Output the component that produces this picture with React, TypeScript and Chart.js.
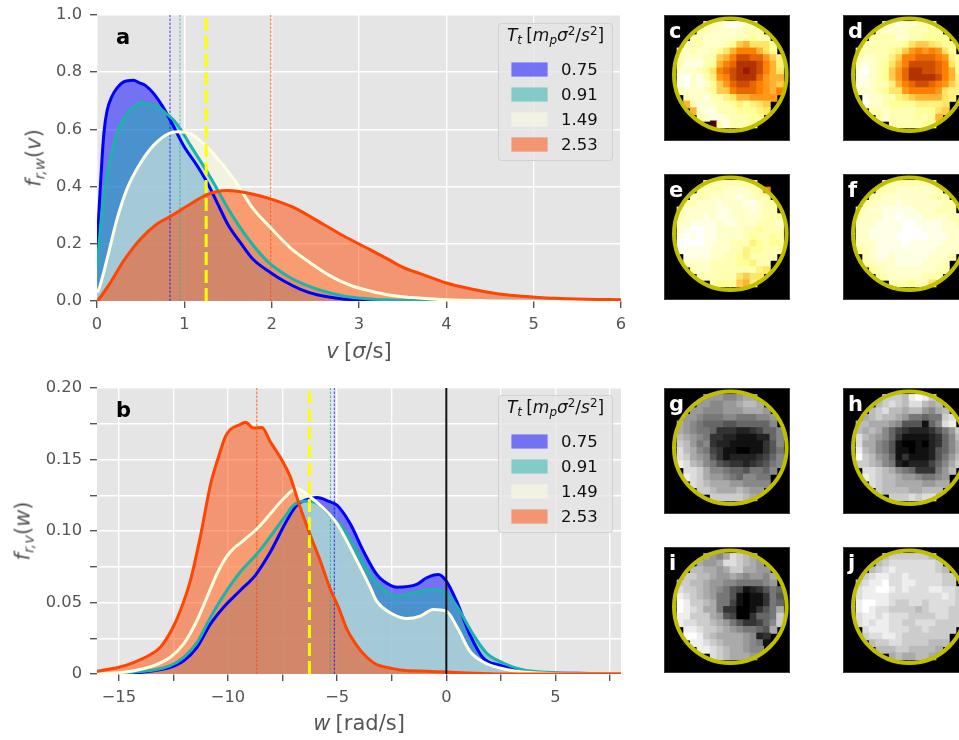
import React, { useEffect, useRef } from "react";
import { Chart, registerables } from "chart.js";

Chart.register(...registerables);

const FONT = "'DejaVu Sans', sans-serif";
const INK = "#555555";
const PANEL = "#E5E5E5";

const seriesLabels = ["0.75", "0.91", "1.49", "2.53"];
const seriesLines = ["#0000FF", "#20B2AA", "#FFFFE0", "#FF4500"];
const seriesFills = ["rgba(0,0,255,0.5)", "rgba(32,178,170,0.5)", "rgba(255,255,224,0.5)", "rgba(255,69,0,0.5)"];
const meanColors = ["rgba(0,0,255,0.75)", "rgba(32,178,170,0.85)", "#FFFF00", "rgba(255,69,0,0.8)"];

// Panel a: speed distribution
const speedBlueX = [0, 0.02, 0.04, 0.06, 0.08, 0.115, 0.17, 0.23, 0.305, 0.42, 0.477, 0.553, 0.65, 0.744, 0.84, 0.99, 1.145, 1.26, 1.374, 1.507, 1.64, 1.79, 1.985, 2.14, 2.33, 2.52, 2.79, 2.98, 3.17, 3.5, 4, 6];
const speedBlueY = [0.164, 0.3, 0.41, 0.51, 0.59, 0.665, 0.715, 0.745, 0.766, 0.772, 0.764, 0.754, 0.725, 0.684, 0.632, 0.544, 0.474, 0.415, 0.345, 0.263, 0.205, 0.145, 0.1, 0.07, 0.041, 0.022, 0.008, 0.0035, 0.0012, 0.0003, 0, 0];
const speedTealX = [0, 0.057, 0.115, 0.19, 0.267, 0.344, 0.42, 0.496, 0.573, 0.687, 0.782, 0.878, 0.954, 1.07, 1.24, 1.374, 1.527, 1.72, 1.947, 2.21, 2.52, 2.82, 3.09, 3.36, 3.7, 4.2, 6];
const speedTealY = [0.117, 0.31, 0.439, 0.544, 0.614, 0.655, 0.678, 0.694, 0.69, 0.681, 0.658, 0.632, 0.602, 0.544, 0.462, 0.392, 0.31, 0.222, 0.14, 0.082, 0.041, 0.0175, 0.008, 0.0035, 0.001, 0, 0];
const speedIvoryX = [0, 0.02, 0.115, 0.23, 0.344, 0.477, 0.65, 0.84, 0.935, 1.07, 1.164, 1.3, 1.565, 1.79, 1.985, 2.21, 2.44, 2.67, 2.9, 3.13, 3.36, 3.6, 4, 4.5, 5, 6];
const speedIvoryY = [0.03, 0.04, 0.146, 0.287, 0.392, 0.472, 0.545, 0.588, 0.592, 0.585, 0.565, 0.526, 0.427, 0.322, 0.257, 0.187, 0.134, 0.088, 0.055, 0.035, 0.02, 0.012, 0.004, 0.001, 0, 0];
const speedRedX = [0, 0.02, 0.153, 0.305, 0.496, 0.687, 0.84, 1.07, 1.26, 1.49, 1.64, 1.79, 1.985, 2.25, 2.52, 2.82, 3.126, 3.32, 3.51, 3.7, 3.89, 4, 4.27, 4.46, 4.73, 4.99, 5.22, 5.6, 6];
const speedRedY = [0, 0.006, 0.064, 0.14, 0.216, 0.269, 0.296, 0.339, 0.372, 0.386, 0.382, 0.373, 0.357, 0.327, 0.281, 0.228, 0.1795, 0.148, 0.1166, 0.0956, 0.0746, 0.063, 0.043, 0.0315, 0.0198, 0.014, 0.0093, 0.0058, 0.0047];
const speedMeans = [0.836, 0.95, 1.25, 1.99];
const speedXTicks = [0, 1, 2, 3, 4, 5, 6];
const speedYTicks = [0, 0.2, 0.4, 0.6, 0.8, 1.0];

// Panel b: angular velocity distribution
const spinBlueX = [-16, -14.3, -13.4, -12.64, -12.03, -11.42, -10.8, -10.2, -9.44, -8.75, -8.06, -7.3, -6.85, -6.39, -5.93, -5.32, -5, -4.4, -3.8, -3.19, -2.88, -2.27, -1.36, -0.9, -0.37, 0, 0.47, 1.08, 1.69, 2.45, 3.37, 4.6, 5.96, 8];
const spinBlueY = [0, 0.0007, 0.0023, 0.0047, 0.0093, 0.0187, 0.035, 0.0467, 0.0584, 0.069, 0.0853, 0.1075, 0.118, 0.122, 0.1234, 0.1203, 0.118, 0.105, 0.086, 0.0696, 0.065, 0.0607, 0.0626, 0.0673, 0.0696, 0.065, 0.0509, 0.0276, 0.0112, 0.0061, 0.0023, 0.0009, 0.0005, 0];
const spinTealX = [-16, -15, -14.3, -13.4, -12.64, -12.03, -11.42, -10.8, -10.2, -9.44, -8.67, -7.91, -7.3, -7, -6.39, -5.93, -5.32, -4.7, -4.1, -3.49, -3.03, -2.27, -1.5, -0.6, 0, 0.62, 1.23, 1.84, 2.6, 3.5, 4.6, 5.96, 8];
const spinTealY = [0, 0.0005, 0.0014, 0.0028, 0.0058, 0.0117, 0.022, 0.0397, 0.055, 0.0713, 0.0841, 0.0993, 0.112, 0.118, 0.121, 0.1194, 0.1107, 0.1014, 0.086, 0.0696, 0.0614, 0.0544, 0.0568, 0.0591, 0.0568, 0.0439, 0.0276, 0.0147, 0.0077, 0.003, 0.0012, 0.0002, 0];
const spinIvoryX = [-16, -15.4, -14.3, -13.4, -12.64, -12.03, -11.42, -10.96, -10.43, -9.9, -9.28, -8.67, -8.06, -7.45, -6.85, -6.23, -5.62, -5, -4.1, -3.49, -3.19, -2.42, -1.81, -1.2, -0.6, 0, 0.47, 1.08, 1.69, 2.45, 3.2, 3.98, 5, 6, 8];
const spinIvoryY = [0, 0.0005, 0.0023, 0.0058, 0.0117, 0.021, 0.0374, 0.0537, 0.0724, 0.0853, 0.0935, 0.1016, 0.112, 0.1227, 0.1297, 0.1238, 0.1157, 0.105, 0.0794, 0.0607, 0.0509, 0.0416, 0.0388, 0.0404, 0.0451, 0.0439, 0.0334, 0.0159, 0.0084, 0.0042, 0.0019, 0.0009, 0.0002, 0, 0];
const spinRedX = [-16, -15, -14.3, -13.63, -13.1, -12.56, -12.18, -11.72, -11.27, -10.8, -10.43, -10.12, -9.89, -9.5, -9.2, -8.83, -8.45, -8.06, -7.53, -7.15, -6.77, -6.23, -5.78, -5.32, -4.94, -4.56, -4.1, -3.64, -3.19, -2.58, -2.12, -0.9, 0, 0.93, 2, 3, 8];
const spinRedY = [0.0019, 0.0047, 0.0082, 0.0129, 0.0187, 0.0315, 0.0444, 0.0654, 0.0958, 0.1325, 0.152, 0.166, 0.171, 0.174, 0.176, 0.172, 0.1724, 0.1624, 0.1495, 0.138, 0.12, 0.097, 0.0794, 0.0596, 0.0467, 0.0315, 0.0199, 0.0117, 0.0065, 0.0042, 0.0028, 0.0019, 0.0014, 0.0007, 0.0002, 0, 0];
const spinMeans = [-5.13, -5.31, -6.27, -8.68];
const spinZero = 0;
const spinXTicks = [-15, -12.5, -10, -7.5, -5, -2.5, 0, 2.5, 5, 7.5];
const spinYTicks = [0, 0.025, 0.05, 0.075, 0.1, 0.125, 0.15, 0.175, 0.2];

// Heat maps: each row is a run of levels (hex digit, 0 = lowest) starting at the column given in heatRowStarts
const heatRowStarts = [8, 6, 5, 4, 3, 1, 1, 1, 1, 1, 1, 1, 3, 3, 4, 5, 7, 9];
const heatMaskStart = [99, 6, 5, 4, 3, 2, 2, 2, 2, 2, 2, 2, 3, 3, 4, 5, 7, 99];
const heatMaskEnd = [0, 13, 15, 15, 16, 16, 17, 17, 17, 17, 17, 17, 16, 15, 15, 14, 13, 0];
const heatC = ["22222", "33210122", "3322222333", "332222233433", "33322234786664", "3323223468aaa864", "432223378accbb9754", "43111348abdddca854", "4222346abcdedca865", "31021359acdddb9887", "310212479bccba9876", "422223477abbba98a", "32213356889999", "8312233454567", "821133344456", "3211233344", "f313334", "3333"];
const heatD = ["33333", "22122333", "3222233343", "333322334444", "33333346776544", "7433334579a9a964", "33223357aabbba9544", "32123468accccba644", "31023479bddccba844", "31123479bddddca854", "31123358abccba9754", "322234669aaaa9655", "12233567888865", "0223444455556", "332333344467", "3233334348", "3333344", "4444"];
const heatE = ["33333", "33333333", "3333222233a", "233222212233", "33222122211233", "3322222112221233", "332221211222223343", "322111121122233323", "221001122223343333", "210101122223433433", "200001122333543444", "201111222335443333", "11112233453333", "2222333344533", "322333333356", "3333336766", "3444785", "4466"];
const heatF = ["44444", "33333333", "3332222223", "332222222333", "33222122222233", "7322211111222333", "332221101112222333", "322211110011112233", "322111110001112223", "322111100000111223", "322211110111112223", "433211111111122223", "32112111112223", "3322211112223", "432222222233", "3322222333", "3334336", "4444"];
const heatG = ["66666", "66677655", "6677665445", "667776665556", "66788877888776", "55678999aa999997", "4567889cccddcb9977", "345678ccddeeedd977", "234687cddeeeeeca78", "124578bceeffeeca87", "023567aceddddcb976", "0124578abccdcba87", "223577899a8897", "1235667897788", "234555667777", "3345554566", "3333345", "3333"];
const heatH = ["44444", "33341013", "4323422454", "432445446754", "54344568898832", "44455567aaae9721", "3454579bcdddca8632", "1245679ceeeedc9743", "125578aeffefdc9754", "014578aeefeeda9754", "0034679eceeeda8643", "2334578dedddb9753", "22345789ccc864", "1234456678876", "234455556655", "3444455444", "3332322", "3333"];
const heatI = ["44555", "56752345", "5665223456", "445565335566", "33445665676675", "3334456677888876", "223345678abedca896", "012345688aefeec8a9", "001334588befeec89f", "00123558ccffeca856", "01133356abffc99833", "1122334568accb973", "112334567889a5", "00134555567dc", "11234555678e", "1123455677", "2345556", "5555"];
const heatJ = ["55555", "43333334", "4322222223", "432122222234", "32112212222233", "4321102211222233", "321100121222112233", "321111222222221233", "210011233223222233", "210122333343222333", "221121222333322333", "321211223322233333", "21112223323333", "3221123333333", "433223333444", "4443344445", "5455445", "5555"];

const warmPalette = ["#FFFFFF", "#FFFFE6", "#FFFFCC", "#FFFFB3", "#FFFF99", "#FFF280", "#FFE666", "#FFCC4D", "#FFB333", "#FF9919", "#FF8000", "#E66600", "#CC4D00", "#B33300", "#991A00", "#4C0000"];
const grayPalette = ["#FFFFFF", "#EEEEEE", "#DDDDDD", "#CCCCCC", "#BBBBBB", "#AAAAAA", "#999999", "#888888", "#777777", "#666666", "#555555", "#444444", "#333333", "#222222", "#111111", "#000000"];

const gridCells = 19;
const ringCenterCol = 10;
const ringCenterRow = 9;

const heatPanels = [
  { letter: "c", rows: heatC, palette: warmPalette, left: 664, top: 15 },
  { letter: "d", rows: heatD, palette: warmPalette, left: 843, top: 15 },
  { letter: "e", rows: heatE, palette: warmPalette, left: 664, top: 174 },
  { letter: "f", rows: heatF, palette: warmPalette, left: 843, top: 174 },
  { letter: "g", rows: heatG, palette: grayPalette, left: 664, top: 388 },
  { letter: "h", rows: heatH, palette: grayPalette, left: 843, top: 388 },
  { letter: "i", rows: heatI, palette: grayPalette, left: 664, top: 547 },
  { letter: "j", rows: heatJ, palette: grayPalette, left: 843, top: 547 },
];

const zip = (xs: number[], ys: number[]) => xs.map((x, i) => ({ x, y: ys[i] }));

const panelBackground = {
  id: "panelBackground",
  beforeDraw(chart: any) {
    const { ctx, chartArea: a } = chart;
    ctx.save();
    ctx.fillStyle = PANEL;
    ctx.fillRect(a.left, a.top, a.right - a.left, a.bottom - a.top);
    ctx.restore();
  },
};

function DistributionChart(props: any) {
  const ref = useRef<HTMLCanvasElement | null>(null);
  const { xs, ys, means, zero, xRange, yRange, xTicks, yTicks, xLabel, yLabel, width, height, areaTop, areaBottom } = props;
  useEffect(() => {
    const curves = xs.map((x: number[], i: number) => ({
      label: seriesLabels[i],
      data: zip(x, ys[i]),
      borderColor: seriesLines[i],
      backgroundColor: seriesFills[i],
      borderWidth: 3,
      fill: "origin",
      pointRadius: 0,
      cubicInterpolationMode: "monotone",
      order: 10 - i,
    }));
    const guides = means.map((m: number, i: number) => ({
      label: "mean " + seriesLabels[i],
      data: zip([m, m], yRange),
      borderColor: meanColors[i],
      borderWidth: i === 2 ? 3 : 1,
      borderDash: i === 2 ? [13, 5] : [2.5, 1.5],
      fill: false,
      pointRadius: 0,
      order: i === 2 ? 0 : 11,
    }));
    const extra =
      zero === undefined
        ? []
        : [{ label: "zero", data: zip([zero, zero], yRange), borderColor: "#111111", borderWidth: 2, fill: false, pointRadius: 0, order: 0 }];
    const axisCommon = {
      type: "linear",
      grid: { color: "#FFFFFF", lineWidth: 1.4, tickColor: INK, tickWidth: 1.4, tickLength: 7 },
      border: { display: false },
    };
    const tickFont = { family: FONT, size: 16.3 };
    const chart = new Chart(ref.current as HTMLCanvasElement, {
      type: "line",
      data: { datasets: [...curves, ...guides, ...extra] },
      plugins: [panelBackground],
      options: {
        animation: false,
        responsive: false,
        devicePixelRatio: 1,
        events: [],
        layout: { autoPadding: false, padding: { top: areaTop, right: width - 621, left: 0, bottom: 0 } },
        plugins: { legend: { display: false }, tooltip: { enabled: false }, filler: { drawTime: "beforeDatasetsDraw" } },
        scales: {
          x: {
            ...axisCommon,
            min: xRange[0],
            max: xRange[1],
            afterBuildTicks: (s: any) => {
              s.ticks = xTicks.map((value: number) => ({ value }));
            },
            afterFit: (s: any) => {
              s.height = height - areaBottom;
              s.paddingLeft = 0;
              s.paddingRight = 0;
            },
            ticks: {
              color: INK,
              font: tickFont,
              padding: 6.5,
              autoSkip: false,
              maxRotation: 0,
              callback: (v: number) => xLabel(v),
            },
          },
          y: {
            ...axisCommon,
            min: yRange[0],
            max: yRange[1],
            afterBuildTicks: (s: any) => {
              s.ticks = yTicks.map((value: number) => ({ value }));
            },
            afterFit: (s: any) => {
              s.width = 97;
              s.paddingTop = 0;
              s.paddingBottom = 0;
            },
            ticks: {
              color: INK,
              font: tickFont,
              padding: 8,
              autoSkip: false,
              callback: (v: number) => yLabel(v),
            },
          },
        },
      },
    } as any);
    return () => chart.destroy();
  }, []);
  return <canvas ref={ref} width={width} height={height} style={{ position: "absolute", left: 0, top: props.top, width, height }} />;
}

function HeatPanel(props: any) {
  const ref = useRef<HTMLCanvasElement | null>(null);
  const { rows, palette, left, top, letter } = props;
  useEffect(() => {
    const cells: { x: number; y: number }[] = [];
    const colors: string[] = [];
    rows.forEach((row: string, r: number) => {
      Array.from(row).forEach((ch, i) => {
        const col = heatRowStarts[r] + i;
        if (col < heatMaskStart[r] || col > heatMaskEnd[r]) return;
        cells.push({ x: col + 0.5, y: r + 0.5 });
        colors.push(palette[parseInt(ch, 16)]);
      });
    });
    const hidden = { display: false, type: "linear", min: 0, max: gridCells };
    const chart = new Chart(ref.current as HTMLCanvasElement, {
      type: "scatter",
      data: {
        datasets: [
          {
            label: "ring",
            data: [{ x: ringCenterCol, y: ringCenterRow }],
            pointStyle: "circle",
            pointRadius: 56.3,
            pointBorderWidth: 4,
            pointBorderColor: "#BFBF00",
            pointBackgroundColor: "rgba(0,0,0,0)",
            order: 0,
            clip: false,
          },
          {
            label: "cells",
            data: cells,
            pointStyle: "rect",
            pointRadius: 5.5,
            pointBorderWidth: 0,
            pointBorderColor: colors,
            pointBackgroundColor: colors,
            order: 1,
            clip: false,
          },
        ],
      },
      options: {
        animation: false,
        responsive: false,
        devicePixelRatio: 1,
        events: [],
        layout: { autoPadding: false, padding: 0 },
        plugins: { legend: { display: false }, tooltip: { enabled: false } },
        scales: { x: { ...hidden }, y: { ...hidden, reverse: true } },
      },
    } as any);
    return () => chart.destroy();
  }, []);
  return (
    <div style={{ position: "absolute", left, top, width: 126, height: 126 }}>
      <canvas ref={ref} width={126} height={126} style={{ position: "absolute", left: 0, top: 0, width: 126, height: 126, background: "#000", filter: "blur(0.4px)" }} />
      <div style={{ position: "absolute", inset: 0, boxShadow: "inset 0 0 0 1px #3A3A3A" }} />
      <span style={{ position: "absolute", left: 5, top: 6, font: `bold 21px/1 ${FONT}`, color: "#FFFFFF" }}>{letter}</span>
    </div>
  );
}

const Sub = ({ children }: any) => <span style={{ fontSize: "0.7em", verticalAlign: "-0.25em", lineHeight: 0 }}>{children}</span>;
const Sup = ({ children }: any) => <span style={{ fontSize: "0.7em", verticalAlign: "0.5em", lineHeight: 0 }}>{children}</span>;
const Gap = () => <span style={{ display: "inline-block", width: "0.25em" }} />;

function LegendBox({ top }: { top: number }) {
  return (
    <div
      style={{
        position: "absolute",
        left: 498,
        top,
        width: 115,
        height: 138,
        boxSizing: "border-box",
        background: "rgba(229,229,229,0.8)",
        border: "1px solid rgba(204,204,204,0.8)",
        borderRadius: 4,
        font: `16.5px/1 ${FONT}`,
        color: "#111111",
        whiteSpace: "nowrap",
      }}
    >
      <div style={{ position: "absolute", left: 0, top: 3, width: 113, textAlign: "center", fontSize: 17 }}>
        <i>T</i>
        <Sub><i>t</i></Sub>
        <Gap />[<i>m</i>
        <Sub><i>p</i></Sub>
        <i>σ</i>
        <Sup>2</Sup>/<i>s</i>
        <Sup>2</Sup>]
      </div>
      {seriesLabels.map((label, i) => (
        <React.Fragment key={label}>
          <div
            style={{
              position: "absolute",
              left: 13,
              top: 39 + i * 25.1,
              width: 35,
              height: 13,
              background: seriesFills[i],
              boxShadow: `0 0 0 0.6px ${seriesFills[i]}`,
            }}
          />
          <span style={{ position: "absolute", left: 62, top: 38 + i * 25.1 }}>{label}</span>
        </React.Fragment>
      ))}
    </div>
  );
}

const axisText: React.CSSProperties = { position: "absolute", font: `21px/1 ${FONT}`, color: INK, whiteSpace: "nowrap" };

export default function App() {
  const frame: React.CSSProperties = { position: "fixed", left: 0, top: 0, width: 959, height: 740, overflow: "hidden", background: "#FFFFFF" };
  const plain = (v: number) => String(v).replace("-", "\u2212");
  return (
    <div style={frame}>
      <DistributionChart
        top={0}
        width={640}
        height={372}
        areaTop={15}
        areaBottom={301}
        xs={[speedBlueX, speedTealX, speedIvoryX, speedRedX]}
        ys={[speedBlueY, speedTealY, speedIvoryY, speedRedY]}
        means={speedMeans}
        xRange={[0, 6]}
        yRange={[0, 1]}
        xTicks={speedXTicks}
        yTicks={speedYTicks}
        xLabel={plain}
        yLabel={(v: number) => v.toFixed(1)}
      />
      <DistributionChart
        top={372}
        width={640}
        height={368}
        areaTop={16}
        areaBottom={302}
        xs={[spinBlueX, spinTealX, spinIvoryX, spinRedX]}
        ys={[spinBlueY, spinTealY, spinIvoryY, spinRedY]}
        means={spinMeans}
        zero={spinZero}
        xRange={[-16, 8]}
        yRange={[0, 0.2]}
        xTicks={spinXTicks}
        yTicks={spinYTicks}
        xLabel={(v: number) => (v % 5 === 0 ? plain(v) : "")}
        yLabel={(v: number) => (Math.abs(v * 20 - Math.round(v * 20)) < 1e-6 ? (v === 0 ? "0" : v.toFixed(2)) : "")}
      />
      {heatPanels.map((p) => (
        <HeatPanel key={p.letter} {...p} />
      ))}
      <LegendBox top={23} />
      <LegendBox top={395} />
      <span style={{ position: "absolute", left: 116, top: 27, font: `bold 21px/1 ${FONT}`, color: "#000" }}>a</span>
      <span style={{ position: "absolute", left: 116, top: 399.5, font: `bold 21px/1 ${FONT}`, color: "#000" }}>b</span>
      <span style={{ ...axisText, left: 359, top: 341, transform: "translateX(-50%)" }}>
        <i>v</i>
        <Gap />[<i>σ</i>/s]
      </span>
      <span style={{ ...axisText, left: 359, top: 713, transform: "translateX(-50%)" }}>
        <i>w</i>
        <Gap />[rad/s]
      </span>
      <span style={{ ...axisText, left: 34, top: 158, transform: "translate(-50%,-50%) rotate(-90deg)" }}>
        <i>f</i>
        <Sub><i>r,w</i></Sub>(<i>v</i>)
      </span>
      <span style={{ ...axisText, left: 23, top: 531, transform: "translate(-50%,-50%) rotate(-90deg)" }}>
        <i>f</i>
        <Sub><i>r,v</i></Sub>(<i>w</i>)
      </span>
    </div>
  );
}
